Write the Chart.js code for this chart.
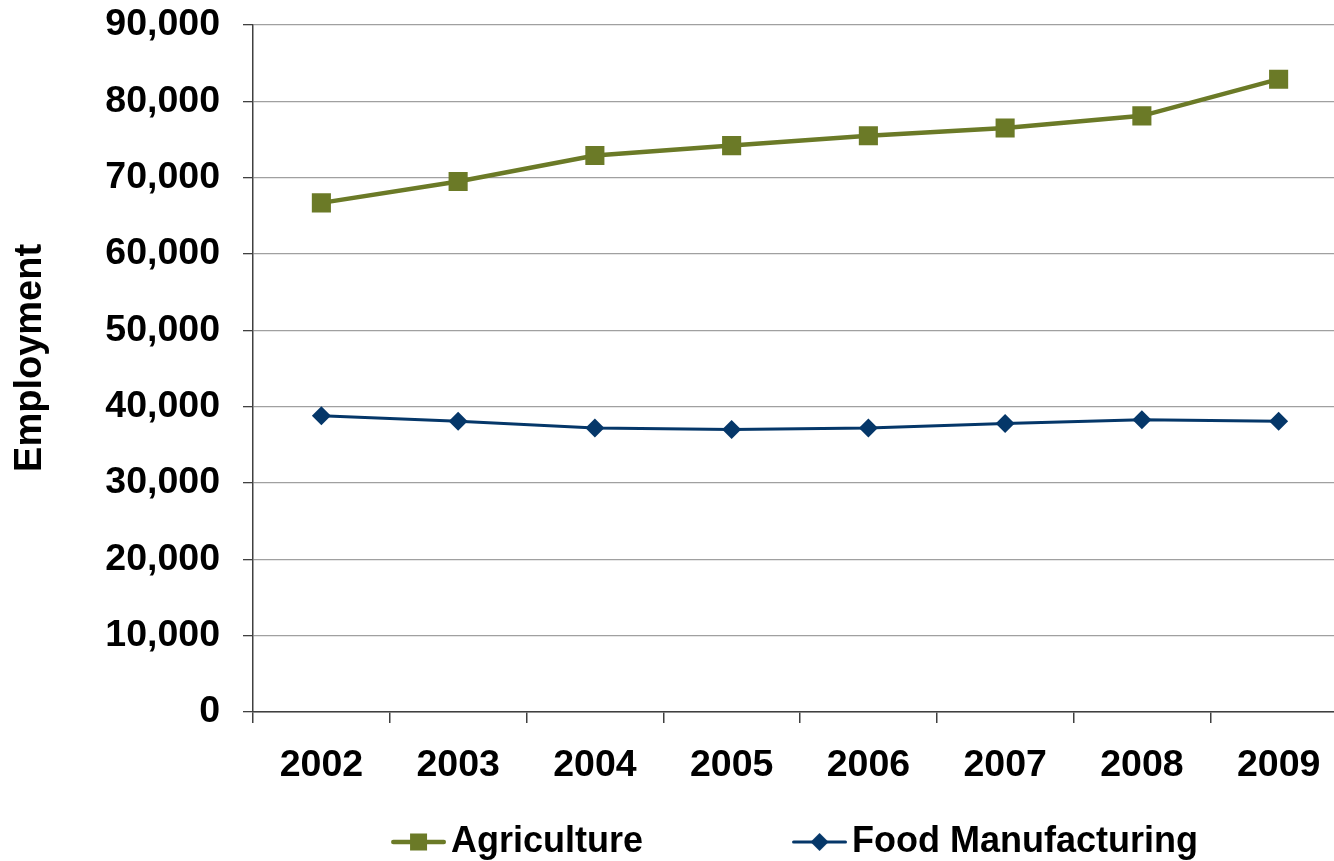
<!DOCTYPE html>
<html>
<head>
<meta charset="utf-8">
<title>Employment 2002–2009</title>
<script src="https://cdn.jsdelivr.net/npm/chart.js@4/dist/chart.umd.min.js"></script>
<style>
  html, body { margin: 0; padding: 0; background: #ffffff; overflow: hidden; }
  #wrap { width: 1450px; height: 861px; }
</style>
</head>
<body>
<div id="wrap"><canvas id="chart" width="1450" height="861"></canvas></div>
<script>
// Employment by year
const years = ['2002', '2003', '2004', '2005', '2006', '2007', '2008', '2009'];
const agriculture = [66700, 69500, 72900, 74200, 75500, 76500, 78100, 82900];
const foodManufacturing = [38800, 38100, 37200, 37000, 37200, 37800, 38300, 38100];
const yTicks = [0, 10000, 20000, 30000, 40000, 50000, 60000, 70000, 80000, 90000];

const OLIVE = '#6b7a27';
const NAVY = '#053769';
const AXIS = '#404040';
const GRID = '#a0a0a0';
const FAMILY = '"Liberation Sans", Arial, sans-serif';
const TICK_FONT = { family: FAMILY, size: 37.5, weight: 'bold' };
const TITLE_FONT = { family: FAMILY, size: 38, weight: 'bold' };
const LEGEND_FONT = { family: FAMILY, size: 36, weight: 'bold' };

// Legend swatch: a short line segment with the series marker in its middle,
// sitting at the right end of a wider transparent canvas.
function legendSymbol(color, lineWidth, marker, markerSize) {
  const total = 207, segment = 55, h = 24;
  const c = document.createElement('canvas');
  c.width = total; c.height = h;
  const g = c.getContext('2d');
  const y = h / 2, x0 = total - segment, xm = total - segment / 2;
  g.strokeStyle = color;
  g.lineWidth = lineWidth;
  g.lineCap = 'round';
  g.beginPath();
  g.moveTo(x0 + lineWidth / 2, y);
  g.lineTo(total - lineWidth / 2, y);
  g.stroke();
  g.fillStyle = color;
  if (marker === 'rect') {
    g.fillRect(xm - markerSize / 2, y - markerSize / 2, markerSize, markerSize);
  } else {
    g.beginPath();
    g.moveTo(xm - markerSize / 2, y);
    g.lineTo(xm, y - markerSize / 2);
    g.lineTo(xm + markerSize / 2, y);
    g.lineTo(xm, y + markerSize / 2);
    g.closePath();
    g.fill();
  }
  return c;
}

const swatches = [
  legendSymbol(OLIVE, 4.5, 'rect', 17),
  legendSymbol(NAVY, 3, 'diamond', 18)
];

new Chart(document.getElementById('chart'), {
  type: 'line',
  data: {
    labels: years,
    datasets: [
      {
        label: 'Agriculture',
        data: agriculture,
        borderColor: OLIVE,
        backgroundColor: OLIVE,
        borderWidth: 4.5,
        pointStyle: 'rect',
        pointRadius: 13.5,
        pointHoverRadius: 13.5,
        pointBorderWidth: 0,
        pointBackgroundColor: OLIVE,
        tension: 0,
        fill: false
      },
      {
        label: 'Food Manufacturing',
        data: foodManufacturing,
        borderColor: NAVY,
        backgroundColor: NAVY,
        borderWidth: 3,
        pointStyle: 'rectRot',
        pointRadius: 9.5,
        pointHoverRadius: 9.5,
        pointBorderWidth: 0,
        pointBackgroundColor: NAVY,
        tension: 0,
        fill: false
      }
    ]
  },
  options: {
    responsive: false,
    animation: false,
    events: [],
    layout: { padding: { top: 25, right: 0, bottom: -9, left: 0 } },
    plugins: {
      tooltip: { enabled: false },
      legend: {
        display: true,
        position: 'bottom',
        labels: {
          usePointStyle: true,
          pointStyleWidth: 181,
          padding: 10,
          color: '#000000',
          font: LEGEND_FONT,
          generateLabels(chart) {
            const items = Chart.defaults.plugins.legend.labels.generateLabels(chart);
            items.forEach((item, i) => { item.pointStyle = swatches[i]; });
            return items;
          }
        }
      }
    },
    scales: {
      x: {
        type: 'category',
        offset: true,
        grid: {
          offset: true,
          drawOnChartArea: false,
          color: AXIS,
          lineWidth: 1.5,
          tickLength: 11
        },
        border: { color: AXIS, width: 1.5 },
        ticks: {
          color: '#000000',
          font: TICK_FONT,
          padding: 20,
          maxRotation: 0,
          autoSkip: false
        },
        afterFit(scale) { scale.height = 102; }
      },
      y: {
        type: 'linear',
        position: 'left',
        min: 0,
        max: 90000,
        afterBuildTicks(scale) { scale.ticks = yTicks.map(v => ({ value: v })); },
        ticks: {
          color: '#000000',
          font: TICK_FONT,
          padding: 23,
          callback: v => v.toLocaleString('en-US')
        },
        grid: {
          color: GRID,
          lineWidth: 1.3,
          tickColor: AXIS,
          tickLength: 10
        },
        border: { color: AXIS, width: 1.5 },
        title: {
          display: true,
          text: '  Employment',
          color: '#000000',
          font: TITLE_FONT,
          padding: { top: 8, bottom: 0 }
        },
        afterFit(scale) {
          scale.width = 253;
          scale.paddingTop = 0;
          scale.paddingBottom = 0;
        }
      },
      // empty right-hand gutter so the plot runs to the same right edge
      gutter: {
        type: 'linear',
        position: 'right',
        display: true,
        grid: { display: false },
        border: { display: false },
        ticks: { display: false },
        afterFit(scale) {
          scale.width = 103;
          scale.paddingTop = 0;
          scale.paddingBottom = 0;
        }
      }
    }
  }
});
</script>
</body>
</html>
